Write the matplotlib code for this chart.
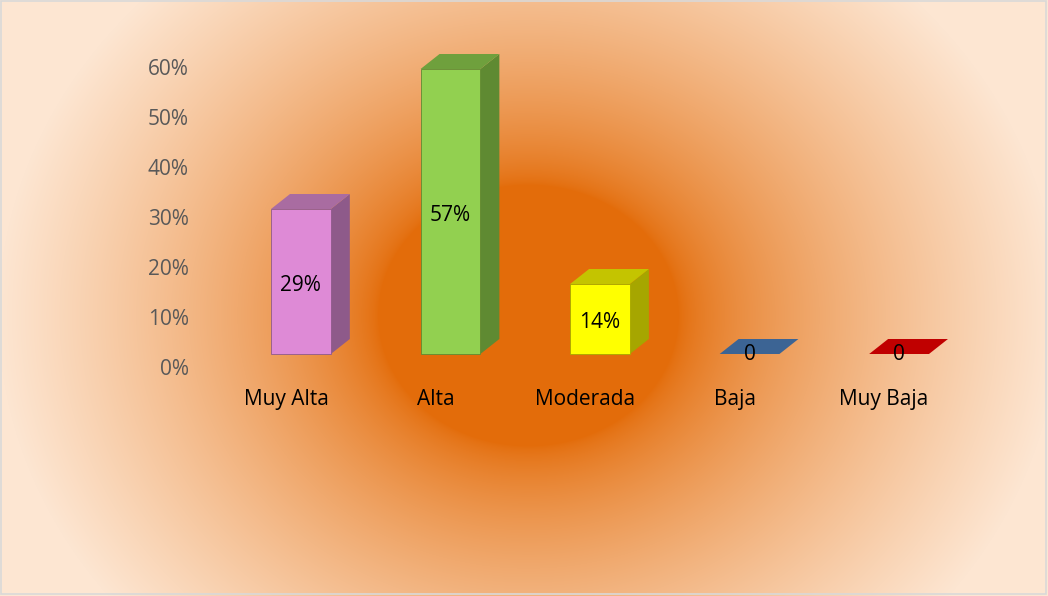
import numpy as np
import matplotlib
matplotlib.use("Agg")
import matplotlib.pyplot as plt
from matplotlib.patches import Polygon
from matplotlib.colors import to_rgb

categories = ["Muy Alta", "Alta", "Moderada", "Baja", "Muy Baja"]
values = [0.29, 0.57, 0.14, 0.0, 0.0]
value_labels = ["29%", "57%", "14%", "0", "0"]
yticks = [0.0, 0.1, 0.2, 0.3, 0.4, 0.5, 0.6]
ytick_labels = ["0%", "10%", "20%", "30%", "40%", "50%", "60%"]

# front / side / top colours per bar
front_cols = ["#DE8AD6", "#92D050", "#FFFF00", "#3C6494", "#C00000"]
side_cols = ["#8E5A8A", "#5F8A32", "#A6A600", "#2F4F75", "#8F0000"]
top_cols = ["#A96CA1", "#6FA03D", "#C4C400", "#3C6494", "#C00000"]

plt.rcParams["font.family"] = ["Open Sans", "DejaVu Sans"]
FS = 15

W, H = 1048, 596
fig = plt.figure(figsize=(W / 100, H / 100), dpi=100)

# radial orange background
bg = fig.add_axes([0, 0, 1, 1], zorder=0)
yy, xx = np.mgrid[0:H, 0:W]
r = np.hypot(xx - 528, (yy - 315) * 1.15)
f = np.clip((r - 150) / 380, 0, 1) ** 0.7
inner = np.array(to_rgb("#E36C0A"))
outer = np.array(to_rgb("#FDE6D2"))
img = inner[None, None, :] * (1 - f[..., None]) + outer[None, None, :] * f[..., None]
bg.imshow(img, extent=[0, W, H, 0], aspect="auto")
bg.set_xlim(0, W)
bg.set_ylim(H, 0)
bg.add_patch(plt.Rectangle((1, 1), W - 3, H - 3, fill=False, ec="#D9D9D9", lw=1.2))
bg.axis("off")

ax = fig.add_axes([200 / W, (H - 367) / H, 800 / W, 300 / H], zorder=1)
ax.patch.set_alpha(0)
ax.set_xlim(-0.675, 4.675)
ax.set_ylim(0, 0.6)

base = 0.026      # front face floor
bw = 0.4          # bar width (category units)
dx, dy = 0.127, 0.03  # depth offset

for i, (v, lab) in enumerate(zip(values, value_labels)):
    x0, x1 = i - bw / 2, i + bw / 2
    y0, y1 = base, base + v
    if v > 0:
        ax.add_patch(Polygon([(x1, y0), (x1 + dx, y0 + dy), (x1 + dx, y1 + dy), (x1, y1)],
                             closed=True, fc=side_cols[i], ec="none", clip_on=False))
        ax.add_patch(Polygon([(x0, y1), (x1, y1), (x1 + dx, y1 + dy), (x0 + dx, y1 + dy)],
                             closed=True, fc=top_cols[i], ec="none", clip_on=False))
        ax.add_patch(Polygon([(x0, y0), (x1, y0), (x1, y1), (x0, y1)],
                             closed=True, fc=front_cols[i], ec=side_cols[i], lw=0.6,
                             clip_on=False))
        ax.text(i, (y0 + y1) / 2 - 0.008, lab, ha="center", va="center", fontsize=FS, color="black")
    else:
        ax.add_patch(Polygon([(x0, y0), (x1, y0), (x1 + dx, y0 + dy), (x0 + dx, y0 + dy)],
                             closed=True, fc=top_cols[i], ec="none", clip_on=False))
        ax.text(i, y0, lab, ha="center", va="center", fontsize=FS, color="black")

ax.set_yticks(yticks)
ax.set_yticklabels(ytick_labels, fontsize=FS, color="#595959")
ax.set_xticks(np.arange(len(categories)) - 0.1)
ax.set_xticklabels(categories, fontsize=FS, color="black")
ax.tick_params(axis="y", length=0, pad=8)
ax.tick_params(axis="x", length=0, pad=16)
for s in ax.spines.values():
    s.set_visible(False)

fig.savefig("out.png", dpi=100)
